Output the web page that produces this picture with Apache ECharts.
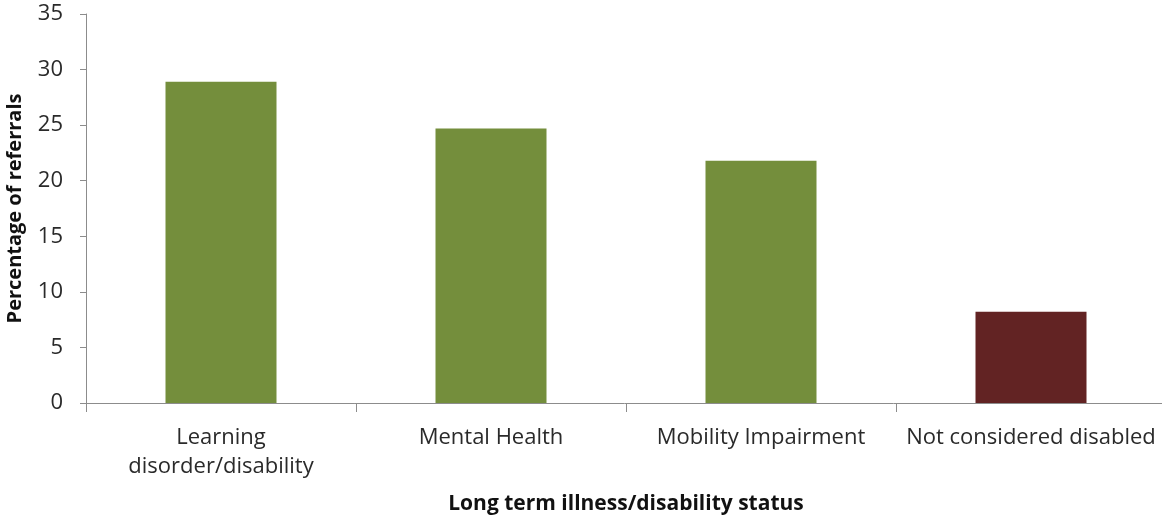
<!DOCTYPE html>
<html>
<head>
<meta charset="utf-8">
<script src="https://cdn.jsdelivr.net/npm/echarts@6/dist/echarts.min.js"></script>
<style>
  html, body { margin: 0; padding: 0; background: #fff; }
  #chart { width: 1162px; height: 520px; }
</style>
</head>
<body>
<div id="chart"></div>
<script>
// Share of referrals by long term illness / disability status
const categories = ['Learning\ndisorder/disability', 'Mental Health', 'Mobility Impairment', 'Not considered disabled'];
const percentages = [28.9, 24.7, 21.8, 8.2];
const barColors = ['#748E3C', '#748E3C', '#748E3C', '#622323'];

const FONT = '"Open Sans", Lato, sans-serif';
const axisGray = '#8c8c8c';

const chart = echarts.init(document.getElementById('chart'), null, { renderer: 'canvas' });
chart.setOption({
  animation: false,
  grid: { left: 86, right: -4, top: 14, bottom: 117, containLabel: false, outerBoundsMode: 'none' },
  xAxis: {
    type: 'category',
    data: categories,
    name: 'Long term illness/disability status',
    nameLocation: 'middle',
    nameGap: 91,
    nameTextStyle: { fontFamily: FONT, fontSize: 21, fontWeight: 'bold', color: '#111' },
    axisLine: { lineStyle: { color: axisGray, width: 1 } },
    axisTick: { show: true, length: 9, lineStyle: { color: axisGray } },
    axisLabel: { fontFamily: FONT, fontSize: 22, color: '#2a2a2a', margin: 20, lineHeight: 29, interval: 0 }
  },
  yAxis: {
    type: 'value',
    min: 0,
    max: 35,
    interval: 5,
    name: 'Percentage of referrals',
    nameLocation: 'middle',
    nameGap: 61,
    nameRotate: 90,
    nameTextStyle: { fontFamily: FONT, fontSize: 20, fontWeight: 'bold', color: '#111' },
    axisLine: { show: true, lineStyle: { color: axisGray, width: 1 } },
    axisTick: { show: true, length: 6, lineStyle: { color: axisGray } },
    axisLabel: { fontFamily: FONT, fontSize: 22, color: '#2a2a2a', margin: 23 },
    splitLine: { show: false }
  },
  series: [{
    type: 'bar',
    data: percentages.map((v, i) => ({ value: v, itemStyle: { color: barColors[i] } })),
    barWidth: 111
  }]
});
</script>
</body>
</html>
